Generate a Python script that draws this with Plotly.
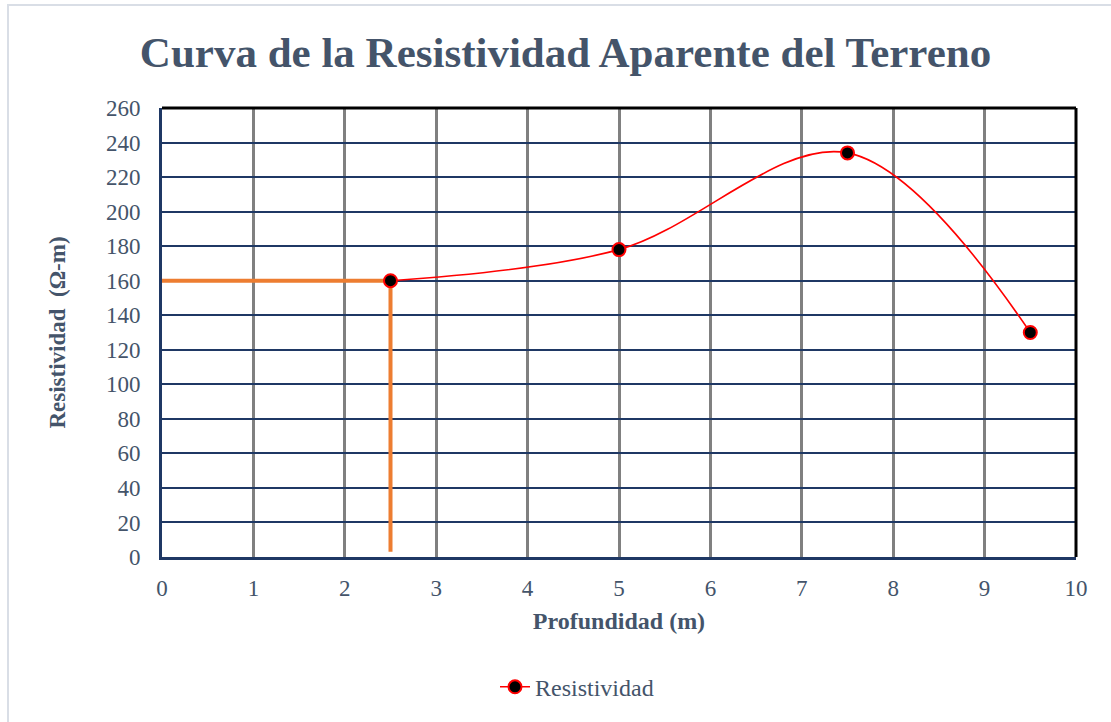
import plotly.graph_objects as go

# Measured apparent resistivity vs. depth
profundidad = [2.5, 5, 7.5, 9.5]
resistividad = [160, 178, 234, 130]

# Reading guide at 2.5 m (horizontal to the curve, then down to the axis)
guia_x = [0, 2.5, 2.5]
guia_y = [160, 160, 3]

x_ticks = list(range(0, 11))
y_ticks = list(range(0, 261, 20))

TEXT = "#44546A"
NAVY = "#1F3864"
FONT = "Liberation Serif, Times New Roman, serif"

fig = go.Figure()

fig.add_trace(go.Scatter(
    x=guia_x, y=guia_y, mode="lines",
    line=dict(color="#ED7D31", width=4),
    showlegend=False, hoverinfo="skip",
))

fig.add_trace(go.Scatter(
    x=profundidad, y=resistividad, mode="lines+markers",
    name="Resistividad",
    line=dict(color="#FF0000", width=1.6, shape="spline", smoothing=1),
    marker=dict(color="#000000", size=13, line=dict(color="#FF0000", width=2)),
))

fig.update_layout(
    width=1111, height=722,
    margin=dict(l=162, r=35, t=108, b=165),
    paper_bgcolor="white", plot_bgcolor="white",
    font=dict(family=FONT, color=TEXT, size=23),
    title=dict(
        text="<b>Curva de la Resistividad Aparente del Terreno</b>",
        x=0.509, xanchor="center", y=0.928, yanchor="middle",
        font=dict(family=FONT, size=43, color=TEXT),
    ),
    xaxis=dict(
        range=[0, 10], tickvals=x_ticks, ticktext=[str(v) for v in x_ticks],
        showgrid=True, gridcolor="#808080", gridwidth=3,
        showline=True, linecolor=NAVY, linewidth=3,
        zeroline=False, ticks="", ticklen=0, ticklabelstandoff=8,
        tickfont=dict(size=23, color=TEXT),
        title=dict(text="<b>Profundidad (m)</b>", font=dict(size=24, color=TEXT), standoff=13),
    ),
    yaxis=dict(
        range=[0, 260], tickvals=y_ticks, ticktext=[str(v) for v in y_ticks],
        showgrid=True, gridcolor=NAVY, gridwidth=2,
        showline=True, linecolor=NAVY, linewidth=3,
        zeroline=False, ticks="", ticklen=0, ticklabelstandoff=14,
        tickfont=dict(size=23, color=TEXT),
        title=dict(text="<b>Resistividad  (Ω-m)</b>", font=dict(size=23, color=TEXT), standoff=34),
    ),
    legend=dict(
        orientation="h", x=(495 - 162) / 914, xanchor="left", y=-0.29, yanchor="middle",
        font=dict(size=24, color=TEXT), bgcolor="rgba(0,0,0,0)",
    ),
    shapes=[
        # top and right frame edges
        dict(type="line", xref="paper", yref="paper", x0=0, x1=1, y0=1, y1=1,
             line=dict(color="#000000", width=3)),
        dict(type="line", xref="paper", yref="paper", x0=1, x1=1, y0=0, y1=1,
             line=dict(color="#000000", width=3)),
        # outer chart border
        dict(type="rect", xref="paper", yref="paper",
             x0=-0.1685, x1=1.045, y0=-0.38, y1=1.2294,
             line=dict(color="#D9DEE6", width=2), layer="below"),
    ],
)

fig.write_html("out.html")
